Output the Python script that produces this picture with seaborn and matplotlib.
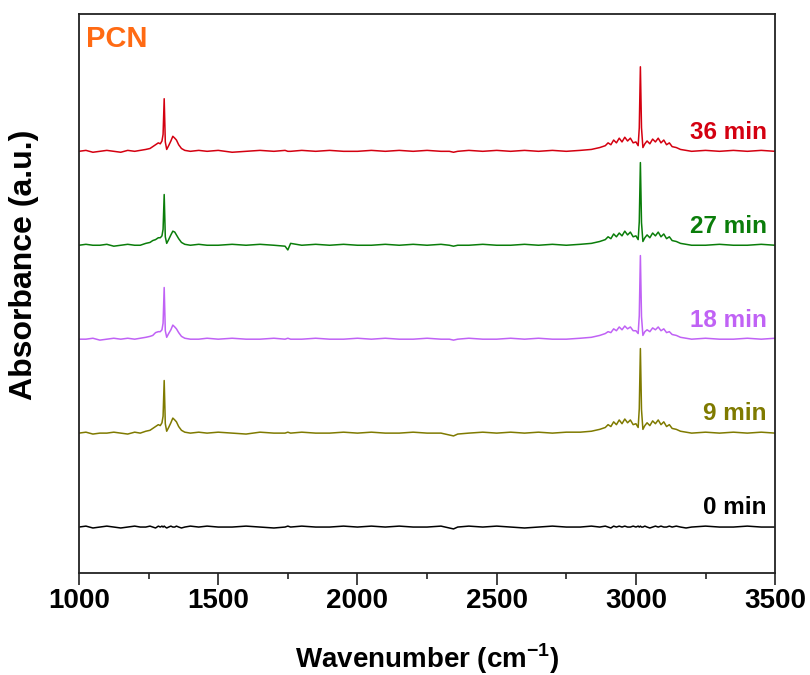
import numpy as np
import pandas as pd
import matplotlib
matplotlib.use('Agg')
import matplotlib.pyplot as plt
from matplotlib.ticker import MultipleLocator
import seaborn as sns

wavenumber = [1000, 1025, 1050, 1075, 1100, 1125, 1150, 1175, 1200, 1220,
              1240, 1255, 1265, 1275, 1285, 1292, 1298, 1302, 1306, 1310,
              1315, 1322, 1330, 1337, 1344, 1350, 1358, 1368, 1380, 1400,
              1430, 1460, 1500, 1550, 1600, 1650, 1700, 1740, 1750, 1760,
              1800, 1850, 1900, 1950, 2000, 2050, 2100, 2150, 2200, 2250,
              2300, 2330, 2345, 2360, 2400, 2450, 2500, 2550, 2600, 2650,
              2700, 2750, 2800, 2840, 2870, 2890, 2900, 2910, 2920, 2930,
              2940, 2950, 2960, 2970, 2980, 2990, 3000, 3008, 3012, 3016,
              3020, 3025, 3032, 3040, 3050, 3060, 3070, 3080, 3090, 3100,
              3110, 3120, 3130, 3145, 3160, 3180, 3200, 3250, 3300, 3350,
              3400, 3450, 3500]

abs_0min = [0.00, 0.01, -0.01, 0.00, 0.01, 0.00, -0.01, 0.00, 0.01, 0.00,
            0.00, 0.01, 0.00, -0.01, 0.01, 0.00, 0.01, 0.00, 0.01, 0.00,
            -0.01, 0.00, 0.01, 0.00, 0.00, 0.01, 0.00, -0.01, 0.00, 0.01,
            0.00, 0.01, 0.00, 0.00, 0.01, 0.00, -0.01, 0.00, 0.01, 0.00,
            0.01, 0.00, 0.00, 0.01, 0.00, 0.01, 0.00, 0.01, 0.00, 0.00,
            0.01, -0.01, -0.02, 0.00, 0.01, 0.00, 0.01, 0.00, -0.01, 0.00,
            0.01, 0.00, 0.00, 0.01, 0.00, 0.01, 0.00, -0.01, 0.01, 0.00,
            0.01, 0.00, 0.01, 0.00, 0.00, 0.01, 0.00, 0.01, 0.00, 0.01,
            0.00, 0.00, 0.01, 0.00, -0.01, 0.00, 0.01, 0.00, 0.01, 0.00,
            0.00, 0.01, 0.00, 0.01, 0.00, -0.01, 0.00, 0.01, 0.00, 0.00,
            0.01, 0.00, 0.00]

abs_9min = [0.00, 0.01, -0.01, 0.00, 0.00, 0.01, 0.00, -0.01, 0.01, 0.00,
            0.02, 0.03, 0.05, 0.07, 0.09, 0.08, 0.11, 0.18, 0.56, 0.10,
            0.02, 0.06, 0.11, 0.16, 0.14, 0.12, 0.07, 0.03, 0.01, 0.00,
            0.01, 0.00, 0.01, 0.00, -0.01, 0.01, 0.00, 0.00, 0.01, 0.00,
            0.01, 0.00, 0.00, 0.01, 0.00, 0.01, 0.00, 0.00, 0.01, 0.00,
            0.00, -0.02, -0.03, -0.01, 0.00, 0.01, 0.00, 0.01, 0.00, 0.01,
            0.00, 0.01, 0.01, 0.02, 0.04, 0.06, 0.09, 0.07, 0.12, 0.09,
            0.14, 0.10, 0.15, 0.11, 0.14, 0.09, 0.10, 0.06, 0.26, 0.90,
            0.25, 0.04, 0.08, 0.11, 0.08, 0.13, 0.10, 0.14, 0.09, 0.12,
            0.07, 0.09, 0.05, 0.04, 0.02, 0.01, 0.00, 0.01, 0.00, 0.01,
            0.00, 0.01, 0.00]

abs_18min = [0.00, 0.00, 0.01, -0.01, 0.00, 0.01, 0.00, 0.01, 0.00, 0.01,
             0.02, 0.03, 0.04, 0.07, 0.08, 0.08, 0.10, 0.17, 0.55, 0.09,
             0.02, 0.06, 0.10, 0.15, 0.13, 0.11, 0.07, 0.03, 0.01, 0.00,
             0.00, 0.01, 0.00, 0.01, 0.00, 0.00, 0.01, 0.00, 0.01, 0.00,
             0.00, 0.01, 0.00, 0.00, 0.01, 0.00, 0.01, 0.00, 0.00, 0.01,
             0.00, 0.00, -0.01, 0.00, 0.01, 0.00, 0.00, 0.01, 0.00, 0.01,
             0.00, 0.00, 0.01, 0.02, 0.04, 0.06, 0.08, 0.07, 0.11, 0.09,
             0.13, 0.10, 0.14, 0.11, 0.13, 0.09, 0.09, 0.06, 0.25, 0.89,
             0.24, 0.04, 0.08, 0.10, 0.08, 0.12, 0.10, 0.13, 0.09, 0.11,
             0.07, 0.08, 0.05, 0.04, 0.02, 0.01, 0.00, 0.01, 0.00, 0.00,
             0.01, 0.00, 0.01]

abs_27min = [0.00, 0.01, 0.00, 0.00, 0.01, -0.01, 0.00, 0.01, 0.00, 0.00,
             0.02, 0.03, 0.05, 0.06, 0.08, 0.08, 0.10, 0.17, 0.54, 0.09,
             0.02, 0.06, 0.11, 0.15, 0.14, 0.11, 0.07, 0.03, 0.01, 0.00,
             0.01, 0.00, 0.00, 0.01, 0.00, 0.01, 0.00, -0.01, -0.05, 0.02,
             0.00, 0.01, 0.00, 0.01, 0.00, 0.00, 0.01, 0.00, 0.01, 0.00,
             0.01, 0.00, -0.01, 0.00, 0.00, 0.01, 0.00, 0.00, 0.01, 0.00,
             0.01, 0.00, 0.01, 0.02, 0.04, 0.06, 0.09, 0.07, 0.12, 0.09,
             0.13, 0.10, 0.15, 0.11, 0.14, 0.09, 0.10, 0.06, 0.25, 0.88,
             0.24, 0.04, 0.08, 0.11, 0.08, 0.13, 0.10, 0.14, 0.09, 0.12,
             0.07, 0.09, 0.05, 0.04, 0.02, 0.01, 0.00, 0.00, 0.01, 0.00,
             0.00, 0.01, 0.00]

abs_36min = [0.00, 0.01, -0.01, 0.00, 0.01, 0.00, -0.01, 0.01, 0.00, 0.01,
             0.02, 0.03, 0.05, 0.07, 0.09, 0.08, 0.11, 0.18, 0.56, 0.10,
             0.02, 0.06, 0.11, 0.16, 0.14, 0.12, 0.07, 0.03, 0.01, 0.00,
             0.01, 0.00, 0.01, -0.01, 0.00, 0.01, 0.00, 0.01, 0.00, 0.00,
             0.01, 0.00, 0.01, 0.00, 0.00, 0.01, 0.00, 0.01, 0.00, 0.01,
             0.00, 0.00, -0.01, 0.00, 0.01, 0.00, 0.01, 0.00, 0.01, 0.00,
             0.01, 0.00, 0.01, 0.02, 0.04, 0.06, 0.09, 0.07, 0.12, 0.09,
             0.14, 0.10, 0.15, 0.11, 0.14, 0.09, 0.10, 0.06, 0.25, 0.90,
             0.25, 0.04, 0.08, 0.11, 0.08, 0.13, 0.10, 0.14, 0.09, 0.12,
             0.07, 0.09, 0.05, 0.04, 0.02, 0.01, 0.00, 0.01, 0.00, 0.01,
             0.00, 0.01, 0.00]

etiquetas = ['0 min', '9 min', '18 min', '27 min', '36 min']
series = [abs_0min, abs_9min, abs_18min, abs_27min, abs_36min]
colores = ['#000000', '#7f7a00', '#c062f5', '#0a7d0a', '#d40010']

sns.set_theme(style='ticks')
plt.rcParams['font.family'] = ['Liberation Sans', 'DejaVu Sans']
plt.rcParams['text.color'] = 'black'
plt.rcParams['axes.labelcolor'] = 'black'
plt.rcParams['xtick.color'] = 'black'
plt.rcParams['mathtext.fontset'] = 'custom'
plt.rcParams['mathtext.bf'] = 'Liberation Sans:bold'

fig = plt.figure(figsize=(8.1, 6.75), dpi=100)
ax = fig.add_axes([0.0975, 0.151, 0.8595, 0.828])

for i, (lab, y, c) in enumerate(zip(etiquetas, series, colores)):
    df = pd.DataFrame({'x': wavenumber, 'y': np.array(y) + i})
    sns.lineplot(data=df, x='x', y='y', ax=ax, color=c, lw=1.1,
                 estimator=None, sort=False)
    ax.text(3470, i + 0.135, lab, color=c, fontsize=17.5, fontweight='bold',
            ha='right', va='baseline')

ax.text(0.01, 0.941, 'PCN', transform=ax.transAxes, color='#ff6a13',
        fontsize=21, fontweight='bold', ha='left', va='baseline')

ax.set_xlim(1000, 3500)
ax.set_ylim(-0.49, 5.46)
ax.set_yticks([])
ax.xaxis.set_major_locator(MultipleLocator(500))
ax.xaxis.set_minor_locator(MultipleLocator(250))
ax.tick_params(axis='x', which='major', direction='out', length=8.5,
               width=1.2, color='#222222', pad=2, labelsize=20)
ax.tick_params(axis='x', which='minor', direction='out', length=4.5,
               width=1.2, color='#222222')
for t in ax.get_xticklabels():
    t.set_fontweight('bold')
for s in ax.spines.values():
    s.set_linewidth(1.3)
    s.set_color('#222222')

ax.set_xlabel('Wavenumber (cm$^{\\mathbf{-1}}$)', fontsize=20,
              fontweight='bold', labelpad=20)
ax.set_ylabel('Absorbance (a.u.)', fontsize=23, fontweight='bold')
ax.yaxis.set_label_coords(-0.057, 0.551)

fig.savefig('out.png', dpi=100)
